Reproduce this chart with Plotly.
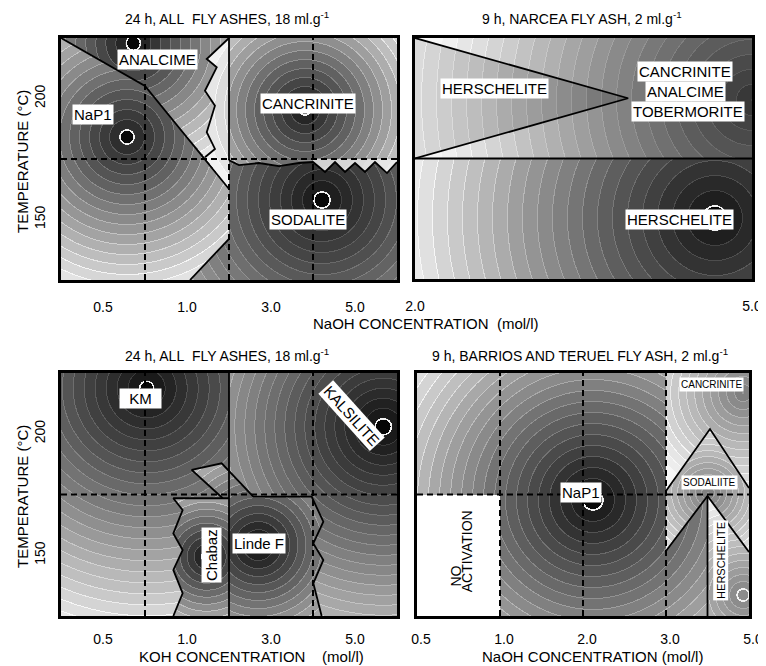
import numpy as np
import plotly.graph_objects as go

# ======================= DATA =======================
# shared temperature ticks (rows): lower row 150 C, upper row 200 C
T_tick_vals = [0.5, 1.5]
T_tick_text = ["150", "200"]

# ---- Panel A: top-left, 24 h, all fly ashes, 18 ml/g, NaOH ----
A_title = "24 h, ALL\u00a0\u00a0FLY ASHES, 18 ml.g<sup>-1</sup>"
A_xtick_vals = [0.5, 1.5, 2.5, 3.5]
A_xtick_text = ["0.5", "1.0", "3.0", "5.0"]
A_fields = ["SODALITE", "NaP1", "ANALCIME", "ANALCIME EDGE", "CANCRINITE", "CANCRINITE EDGE"]
A_cx = [3.107, 0.786, 0.861, 2.905, 2.905, 2.905]
A_cy = [0.661, 1.182, 1.956, 1.405, 1.405, 1.405]
A_polys = [
    [(0, 0), (4, 0), (4, 2), (0, 2)],
    [(0, 2), (1.0, 1.603), (2.0, 0.752), (2.0, 0.34), (1.536, 0), (0, 0)],
    [(0, 2), (2.0, 2), (1.735, 1.826), (1.854, 1.758), (1.714, 1.564), (1.833, 1.44),
     (1.735, 1.221), (1.833, 1.083), (1.714, 1.014), (1.0, 1.603)],
    [(2.0, 2), (2.0, 0.752), (1.714, 1.014), (1.833, 1.083), (1.735, 1.221), (1.833, 1.44),
     (1.714, 1.564), (1.854, 1.758), (1.735, 1.826)],
    [(2, 2), (4, 2), (4, 0.975), (3.881, 0.884), (3.738, 0.975), (3.619, 0.893), (3.5, 0.967),
     (3.381, 0.893), (3.262, 0.975), (3.143, 0.893), (3.0, 0.975), (2.833, 0.967), (2.595, 0.942),
     (2.357, 0.967), (2.119, 0.95), (2.0, 0.99)],
    [(3.0, 1.0), (3.0, 0.975), (3.143, 0.893), (3.262, 0.975), (3.381, 0.893), (3.5, 0.967),
     (3.619, 0.893), (3.738, 0.975), (3.881, 0.884), (4, 0.975), (4, 1.0)],
]
A_solid = [
    [(0, 2), (1.0, 1.603), (2.0, 0.752)],
    [(2.0, 0.34), (1.536, 0)],
    [(2.0, 2), (1.735, 1.826), (1.854, 1.758), (1.714, 1.564), (1.833, 1.44), (1.735, 1.221),
     (1.833, 1.083), (1.714, 1.014)],
    [(2, 2), (2, 0.99)],
    [(2.0, 0.99), (2.119, 0.95), (2.357, 0.967), (2.595, 0.942), (2.833, 0.967), (3.0, 0.975),
     (3.143, 0.893), (3.262, 0.975), (3.381, 0.893), (3.5, 0.967), (3.619, 0.893), (3.738, 0.975),
     (3.881, 0.884), (4, 0.975)],
]
A_dashed = [[(1, 0), (1, 2)], [(3, 0), (3, 2)], [(2, 0), (2, 1)], [(0, 1), (4, 1)]]
A_labels = ["ANALCIME", "NaP1", "CANCRINITE", "SODALITE"]
A_lab_x = [1.143, 0.381, 2.94, 2.94]
A_lab_y = [1.826, 1.364, 1.455, 0.504]
A_lab_angle = [0, 0, 0, 0]

# ---- Panel B: top-right, 9 h, Narcea fly ash, 2 ml/g, NaOH 2.0-5.0 ----
B_title = "9 h, NARCEA FLY ASH, 2 ml.g<sup>-1</sup>"
B_xtick_vals = [0, 4]
B_xtick_text = ["2.0", "5.0"]
B_fields = ["CANCRINITE+ANALCIME+TOBERMORITE", "HERSCHELITE (upper)", "HERSCHELITE (lower)"]
B_cx = [4.0, 4.0, 3.56]
B_cy = [1.486, 1.486, 0.506]
B_polys = [
    [(0, 1), (4, 1), (4, 2), (0, 2)],
    [(0, 2), (2.53, 1.5), (0, 1)],
    [(0, 0), (4, 0), (4, 1), (0, 1)],
]
B_solid = [[(0, 2), (2.53, 1.5), (0, 1)], [(0, 1), (4, 1)]]
B_dashed = []
B_labels = ["HERSCHELITE", "CANCRINITE", "ANALCIME", "TOBERMORITE", "HERSCHELITE"]
B_lab_x = [0.938, 3.205, 3.205, 3.24, 3.145]
B_lab_y = [1.577, 1.72, 1.556, 1.388, 0.494]
B_lab_angle = [0, 0, 0, 0, 0]

# ---- Panel C: bottom-left, 24 h, all fly ashes, 18 ml/g, KOH ----
C_title = "24 h, ALL\u00a0\u00a0FLY ASHES, 18 ml.g<sup>-1</sup>"
C_xtick_vals = [0.5, 1.5, 2.5, 3.5]
C_xtick_text = ["0.5", "1.0", "3.0", "5.0"]
C_fields = ["KM", "KALSILITE", "Linde F", "Chabazite"]
C_cx = [1.02, 3.837, 2.349, 1.734]
C_cy = [1.874, 1.558, 0.584, 0.488]
C_polys = [
    [(0, 0), (2, 0), (2, 2), (0, 2)],
    [(2, 0), (4, 0), (4, 2), (2, 2)],
    [(1.556, 1.202), (1.913, 1.257), (2.289, 0.982), (2.984, 0.982), (3.123, 0.776), (3.004, 0.598),
     (3.123, 0.461), (3.004, 0.269), (3.103, 0), (2, 0), (2, 0.969), (1.925, 0.969)],
    [(1.337, 0.969), (2, 0.969), (2, 0), (1.337, 0), (1.448, 0.187), (1.337, 0.379), (1.448, 0.543),
     (1.337, 0.68), (1.448, 0.872)],
]
C_solid = [
    [(2, 0), (2, 2)],
    [(1.925, 0.969), (1.556, 1.202), (1.913, 1.257), (2.289, 0.982), (2.984, 0.982), (3.123, 0.776),
     (3.004, 0.598), (3.123, 0.461), (3.004, 0.269), (3.103, 0)],
    [(2, 0.969), (1.337, 0.969), (1.448, 0.872), (1.337, 0.68), (1.448, 0.543), (1.337, 0.379),
     (1.448, 0.187), (1.337, 0)],
]
C_dashed = [[(1, 0), (1, 2)], [(3, 0), (3, 2)], [(0, 1), (4, 1)]]
C_labels = ["\u00a0\u00a0KM\u00a0\u00a0", "KALSILITE", "Chabaz", "Linde F"]
C_lab_x = [0.952, 3.46, 1.786, 2.363]
C_lab_y = [1.786, 1.654, 0.502, 0.597]
C_lab_angle = [0, 48, -90, 0]

# ---- Panel D: bottom-right, 9 h, Barrios and Teruel fly ash, 2 ml/g, NaOH ----
D_title = "9 h, BARRIOS AND TERUEL FLY ASH, 2 ml.g<sup>-1</sup>"
D_xtick_vals = [0, 1, 2, 3, 4]
D_xtick_text = ["0.5", "1.0", "2.0", "3.0", "5.0"]
D_fields = ["NaP1", "NO ACTIVATION", "CANCRINITE", "SODALITE", "HERSCHELITE"]
D_cx = [2.12, 0.5, 3.93, 3.506, 3.93]
D_cy = [0.955, 0.5, 1.835, 1.012, 0.173]
D_polys = [
    [(0, 0), (4, 0), (4, 2), (0, 2)],
    [(0, 0), (1, 0), (1, 1), (0, 1)],
    [(3, 2), (4, 2), (4, 1.053), (3.53, 1.539), (3, 1.029)],
    [(3, 1.029), (3.53, 1.539), (4, 1.053), (4, 0.527), (3.5, 0.988), (3, 0.535)],
    [(3.5, 0.988), (4, 0.527), (4, 0), (3.5, 0)],
]
D_solid = [[(3, 1.029), (3.53, 1.539), (4, 1.053)], [(3, 0.535), (3.5, 0.988), (4, 0.527)],
           [(3.5, 0.988), (3.5, 0)]]
D_dashed = [[(1, 0), (1, 2)], [(2, 0), (2, 2)], [(3, 0), (3, 2)], [(0, 1), (4, 1)]]
D_labels = ["NaP1", "NO", "ACTIVATION", "CANCRINITE", "SODALIITE", "HERSCHELITE"]
D_lab_x = [1.98, 0.466, 0.606, 3.55, 3.53, 3.66]
D_lab_y = [1.015, 0.33, 0.535, 1.904, 1.095, 0.46]
D_lab_angle = [0, -90, -90, 0, 0, -90]

# ======================= STYLE =======================
FONT = "Liberation Sans, Arial, sans-serif"
OFF = 8                      # page body margin of the HTML page
W, H = 766 - OFF, 666 - OFF  # figure size so that the page is 766 x 666
# panel boxes in page pixels: (left, right, top, bottom)
BOX = {"A": (61, 397, 38, 280), "B": (415, 752, 38, 279),
       "C": (61, 397, 373, 616), "D": (417, 749, 373, 616)}
# shading per field: (core radius px, core grey, grey at core edge, grey per px, band px, ring strength)
A_tone = [(8, 0.03, 0.12, 0.0035, 11, 0.10), (7, 0.03, 0.18, 0.0051, 10, 0.12),
          (7, 0.03, 0.15, 0.0063, 10, 0.12), (0, 0, 0.50, 0.0045, 10, 0.08),
          (5, 0.08, 0.15, 0.0065, 9, 0.12), (0, 0, 0.72, 0.0020, 10, 0.0)]
B_tone = [(0, 0, 0.22, 0.0024, 15, 0.06), (0, 0, 0.17, 0.0021, 15, 0.06),
          (12, 0.02, 0.12, 0.0028, 15, 0.10)]
C_tone = [(7, 0.03, 0.10, 0.0035, 11, 0.10), (8, 0.02, 0.10, 0.0033, 10, 0.10),
          (7, 0.05, 0.12, 0.0068, 8, 0.12), (5, 0.08, 0.15, 0.0095, 7, 0.12)]
D_tone = [(10, 0.03, 0.12, 0.0038, 11, 0.12), (0, 0, 1.0, 0.0, 1000, 0.0),
          (0, 0, 0.50, 0.0045, 8, 0.10), (0, 0, 0.50, 0.0060, 6, 0.10),
          (6, 0.55, 0.55, 0.0045, 7, 0.10)]


def inside(X, Y, poly):
    res = np.zeros(X.shape, dtype=bool)
    n = len(poly)
    for i in range(n):
        x1, y1 = poly[i]
        x2, y2 = poly[(i + 1) % n]
        if y1 == y2:
            continue
        cond = (Y >= min(y1, y2)) & (Y < max(y1, y2))
        xint = x1 + (Y - y1) * (x2 - x1) / (y2 - y1)
        res ^= cond & (X < xint)
    return res


def shade(key, polys, cx, cy, tones):
    l, r, t, b = BOX[key]
    nx, ny = r - l, b - t
    xs = (np.arange(nx) + 0.5) * 4.0 / nx
    ys = (np.arange(ny) + 0.5) * 2.0 / ny
    X, Y = np.meshgrid(xs, ys)
    sx, sy = nx / 4.0, ny / 2.0
    g = np.ones(X.shape)
    for poly, x0, y0, (core, gc, g0, slope, band, ring) in zip(polys, cx, cy, tones):
        m = inside(X, Y, poly)
        d = np.hypot((X - x0) * sx, (Y - y0) * sy)
        dd = np.maximum(d - core, 0)
        k = np.floor(dd / band)
        val = g0 + slope * band * k
        val = np.where((np.mod(dd, band) < 1.0) & (dd > 0.5), val + ring, val)
        if core > 0:
            val = np.where(d < core, gc, val)
            val = np.where(np.abs(d - core) < 0.8, 0.95, val)
        val = np.clip(val, 0, 0.97 if g0 < 1 else 1.0)
        g[m] = val[m]
    return np.round(g * 100).astype(int), nx, ny


fig = go.Figure()
panels = [
    ("A", "x", "y", A_polys, A_cx, A_cy, A_tone, A_solid, A_dashed, A_labels, A_lab_x, A_lab_y, A_lab_angle),
    ("B", "x2", "y2", B_polys, B_cx, B_cy, B_tone, B_solid, B_dashed, B_labels, B_lab_x, B_lab_y, B_lab_angle),
    ("C", "x3", "y3", C_polys, C_cx, C_cy, C_tone, C_solid, C_dashed, C_labels, C_lab_x, C_lab_y, C_lab_angle),
    ("D", "x4", "y4", D_polys, D_cx, D_cy, D_tone, D_solid, D_dashed, D_labels, D_lab_x, D_lab_y, D_lab_angle),
]
annotations = []
for key, xa, ya, polys, cx, cy, tones, solid, dashed, labs, lx, ly, la in panels:
    z, nx, ny = shade(key, polys, cx, cy, tones)
    fig.add_trace(go.Heatmap(z=z, x0=2.0 / nx, dx=4.0 / nx, y0=1.0 / ny, dy=2.0 / ny,
                             colorscale=[[0, "rgb(0,0,0)"], [1, "rgb(255,255,255)"]],
                             zmin=0, zmax=100, showscale=False, hoverinfo="skip",
                             xaxis=xa, yaxis=ya))
    for ln in dashed:
        fig.add_trace(go.Scatter(x=[p[0] for p in ln], y=[p[1] for p in ln], mode="lines",
                                 line=dict(color="black", width=2, dash="6px,4px"),
                                 hoverinfo="skip", showlegend=False, xaxis=xa, yaxis=ya))
    for ln in solid:
        fig.add_trace(go.Scatter(x=[p[0] for p in ln], y=[p[1] for p in ln], mode="lines",
                                 line=dict(color="black", width=1.8),
                                 hoverinfo="skip", showlegend=False, xaxis=xa, yaxis=ya))
    small = key == "D"
    for txt, x, y, ang in zip(labs, lx, ly, la):
        if small and txt in ("CANCRINITE", "SODALIITE"):
            fs = 10
        elif small and txt == "HERSCHELITE":
            fs = 11
        elif small and txt != "NaP1":
            fs = 14
        else:
            fs = 15
        bg = None if txt in ("NO", "ACTIVATION") else "white"
        annotations.append(dict(x=x, y=y, xref=xa, yref=ya, text=txt, showarrow=False,
                                xanchor="center", yanchor="middle",
                                textangle=ang, font=dict(family=FONT, size=fs, color="black"),
                                bgcolor=bg, borderpad=1))


def dom(key):
    l, r, t, b = BOX[key]
    return [(l - OFF) / W, (r - OFF) / W], [1 - (b - OFF) / H, 1 - (t - OFF) / H]


def px(x, y):
    return (x - OFF) / W, 1 - (y - OFF) / H


axis_common = dict(showgrid=False, zeroline=False, showline=True, mirror=True, linewidth=3,
                   linecolor="black", ticks="", fixedrange=True, automargin=False,
                   ticklabeloverflow="allow",
                   tickfont=dict(family=FONT, size=14, color="black"))
layout_axes = {}
for i, (key, xt, xv, yshow, shift) in enumerate([
        ("A", A_xtick_text, A_xtick_vals, True, 0),
        ("B", B_xtick_text, B_xtick_vals, False, 0),
        ("C", C_xtick_text, C_xtick_vals, True, 0),
        ("D", D_xtick_text, D_xtick_vals, False, 4)]):
    xd, yd = dom(key)
    sfx = "" if i == 0 else str(i + 1)
    layout_axes["xaxis" + sfx] = dict(axis_common, domain=xd, range=[0, 4], tickvals=xv,
                                      ticktext=xt, anchor="y" + sfx,
                                      ticklabelstandoff=12 if key in "AB" else 8,
                                      ticklabelshift=shift)
    layout_axes["yaxis" + sfx] = dict(axis_common, domain=yd, range=[0, 2], tickvals=T_tick_vals,
                                      ticktext=T_tick_text, showticklabels=yshow, tickangle=-90,
                                      anchor="x" + sfx, ticklabelstandoff=7)

tfont = dict(family=FONT, size=14, color="black")
afont = dict(family=FONT, size=15, color="black")
for txt, x, y in [(A_title, 227, 18), (B_title, 582, 18), (C_title, 227, 355), (D_title, 580, 355)]:
    ax, ay = px(x, y)
    annotations.append(dict(x=ax, y=ay, xref="paper", yref="paper", text=txt,
                            xanchor="center", yanchor="middle", showarrow=False, font=tfont))
for txt, x, y in [("NaOH CONCENTRATION\u00a0\u00a0(mol/l)", 426, 323),
                  ("KOH CONCENTRATION\u00a0\u00a0\u00a0\u00a0(mol/l)", 251, 656),
                  ("NaOH CONCENTRATION (mol/l)", 592, 656)]:
    ax, ay = px(x, y)
    annotations.append(dict(x=ax, y=ay, xref="paper", yref="paper", text=txt,
                            xanchor="center", yanchor="middle", showarrow=False, font=afont))
for y in (162, 497):
    ax, ay = px(22, y)
    annotations.append(dict(x=ax, y=ay, xref="paper", yref="paper",
                            xanchor="center", yanchor="middle",
                            text="TEMPERATURE (\u00b0C)", textangle=-90, showarrow=False, font=afont))

fig.update_layout(width=W, height=H, margin=dict(l=0, r=0, t=0, b=0, autoexpand=False),
                  paper_bgcolor="white", plot_bgcolor="white", showlegend=False,
                  annotations=annotations, **layout_axes)
fig.write_html("out.html")
